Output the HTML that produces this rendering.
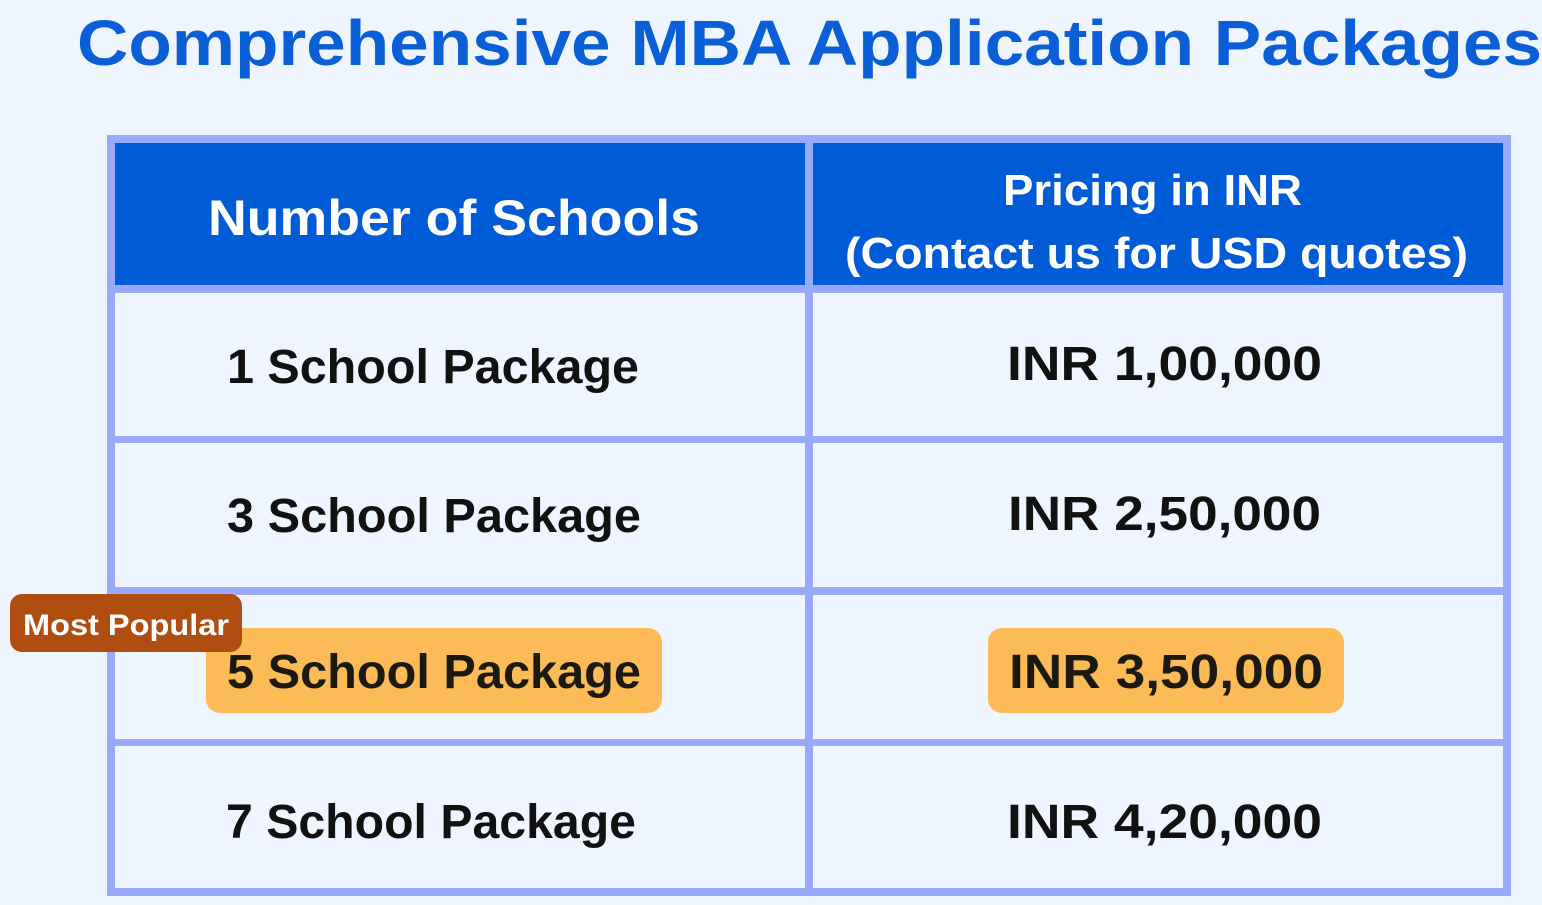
<!DOCTYPE html>
<html><head><meta charset="utf-8"><style>
html,body{margin:0;padding:0;background:#eef5fe;}
svg{display:block}
text{font-family:"Liberation Sans",sans-serif;font-weight:bold;}
</style></head><body>
<svg width="1542" height="905" viewBox="0 0 1542 905" xmlns="http://www.w3.org/2000/svg">
<rect width="1542" height="905" fill="#eef5fe"/>
<text x="77" y="65" font-size="64" fill="#0a5ed6" textLength="1465" lengthAdjust="spacingAndGlyphs">Comprehensive MBA Application Packages</text>
<!-- table -->
<rect x="107" y="135" width="1404" height="761" fill="#99aafd"/>
<rect x="115" y="143" width="690" height="142" fill="#005bd6"/>
<rect x="813" y="143" width="690" height="142" fill="#005bd6"/>
<rect x="115" y="293" width="690" height="143" fill="#eef5fe"/>
<rect x="813" y="293" width="690" height="143" fill="#eef5fe"/>
<rect x="115" y="443" width="690" height="144" fill="#eef5fe"/>
<rect x="813" y="443" width="690" height="144" fill="#eef5fe"/>
<rect x="115" y="595" width="690" height="144" fill="#eef5fe"/>
<rect x="813" y="595" width="690" height="144" fill="#eef5fe"/>
<rect x="115" y="746" width="690" height="142" fill="#eef5fe"/>
<rect x="813" y="746" width="690" height="142" fill="#eef5fe"/>
<text x="208" y="235" font-size="50" fill="#fff" textLength="492" lengthAdjust="spacingAndGlyphs">Number of Schools</text>
<text x="1003" y="205" font-size="44" fill="#fff" textLength="299" lengthAdjust="spacingAndGlyphs">Pricing in INR</text>
<text x="845" y="268" font-size="44" fill="#fff" textLength="623" lengthAdjust="spacingAndGlyphs">(Contact us for USD quotes)</text>
<rect x="206" y="628" width="456" height="85" rx="14" fill="#fdbb57"/>
<rect x="988" y="628" width="356" height="85" rx="14" fill="#fdbb57"/>
<g font-size="48" fill="#111">
<text x="227" y="383" textLength="412" lengthAdjust="spacingAndGlyphs">1 School Package</text>
<text x="1007" y="380" textLength="315" lengthAdjust="spacingAndGlyphs">INR 1,00,000</text>
<text x="227" y="532" textLength="414" lengthAdjust="spacingAndGlyphs">3 School Package</text>
<text x="1008" y="530" textLength="313" lengthAdjust="spacingAndGlyphs">INR 2,50,000</text>
<text x="227" y="688" fill="#1a1a10" textLength="414" lengthAdjust="spacingAndGlyphs">5 School Package</text>
<text x="1009" y="688" fill="#1a1a10" textLength="314" lengthAdjust="spacingAndGlyphs">INR 3,50,000</text>
<text x="226" y="838" textLength="410" lengthAdjust="spacingAndGlyphs">7 School Package</text>
<text x="1007" y="838" textLength="315" lengthAdjust="spacingAndGlyphs">INR 4,20,000</text>
</g>
<rect x="10" y="594" width="232" height="58" rx="12" fill="#b04e12"/>
<text x="23" y="635" font-size="30" fill="#fff" textLength="206" lengthAdjust="spacingAndGlyphs">Most Popular</text>
</svg>
</body></html>
